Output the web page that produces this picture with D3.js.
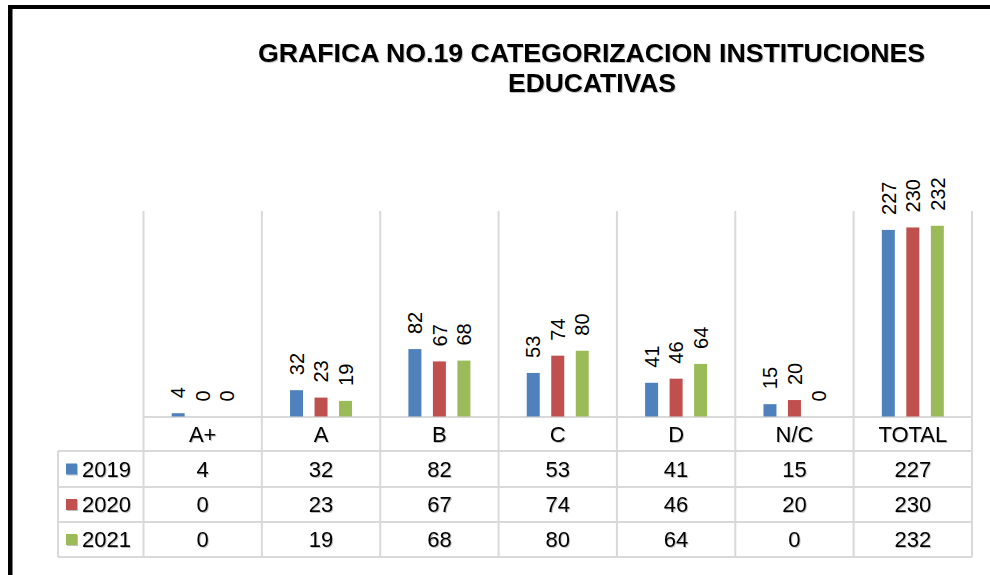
<!DOCTYPE html>
<html>
<head>
<meta charset="utf-8">
<script src="https://cdn.jsdelivr.net/npm/d3@7"></script>
<style>
  body { margin: 0; background: #fff; }
  svg { display: block; font-family: Arial, "Liberation Sans", sans-serif; }
</style>
</head>
<body>
<svg id="chart" width="990" height="575"></svg>
<script>
// chart data
const categories = ['A+', 'A', 'B', 'C', 'D', 'N/C', 'TOTAL'];
const years = ['2019', '2020', '2021'];
const values2019 = [4, 32, 82, 53, 41, 15, 227];
const values2020 = [0, 23, 67, 74, 46, 20, 230];
const values2021 = [0, 19, 68, 80, 64, 0, 232];
const colors = ['#4f81bd', '#c0504d', '#9bbb59'];

const series = [values2019, values2020, values2021].map((vals, i) => ({
    year: years[i], color: colors[i], values: vals
}));

const svg = d3.select('#chart');

// frame (black border top + left)
svg.append('rect').attr('x', 8).attr('y', 5).attr('width', 982).attr('height', 4).attr('fill', '#000');
svg.append('rect').attr('x', 8).attr('y', 5).attr('width', 4.5).attr('height', 570).attr('fill', '#000');

// soft shadow like the original text
const defs = svg.append('defs');
const f = defs.append('filter').attr('id', 'shadow').attr('x', '-10%').attr('y', '-20%').attr('width', '130%').attr('height', '150%');
f.append('feDropShadow').attr('dx', 1).attr('dy', 1).attr('stdDeviation', 0.6)
    .attr('flood-color', '#000').attr('flood-opacity', 0.25);

// title
const title = svg.append('g').attr('font-weight', 'bold').attr('fill', '#000')
    .attr('text-anchor', 'middle').attr('filter', 'url(#shadow)');
title.append('text').attr('x', 591.5).attr('y', 62).attr('font-size', 26.5)
    .attr('textLength', 667).attr('lengthAdjust', 'spacingAndGlyphs')
    .text('GRAFICA NO.19 CATEGORIZACION INSTITUCIONES');
title.append('text').attr('x', 592).attr('y', 92).attr('font-size', 26.5)
    .attr('textLength', 168).attr('lengthAdjust', 'spacingAndGlyphs')
    .text('EDUCATIVAS');

// scales
const x0 = d3.scaleBand().domain(categories).range([143.5, 972]).padding(0);
const groupW = 62;
const x1 = d3.scaleBand().domain(years).range([0, groupW]).paddingInner(0.47).paddingOuter(0);
const y = d3.scaleLinear().domain([0, 250]).range([416.5, 211]);

const tableLeft = 58;
const rowTops = [417, 451, 487, 522, 557];
const gridColor = '#d9d9d9';

// vertical gridlines (category separators) through plot and table
const edges = categories.map(c => x0(c)).concat([x0.range()[1]]);
svg.append('g').selectAll('line').data(edges).join('line')
    .attr('x1', d => d).attr('x2', d => d)
    .attr('y1', 211).attr('y2', rowTops[4])
    .attr('stroke', gridColor).attr('stroke-width', 2);

// table horizontal lines
svg.append('line').attr('x1', x0.range()[0]).attr('x2', x0.range()[1])
    .attr('y1', rowTops[0]).attr('y2', rowTops[0])
    .attr('stroke', gridColor).attr('stroke-width', 2);
svg.append('g').selectAll('line').data(rowTops.slice(1)).join('line')
    .attr('x1', tableLeft).attr('x2', x0.range()[1])
    .attr('y1', d => d).attr('y2', d => d)
    .attr('stroke', gridColor).attr('stroke-width', 2);
svg.append('line').attr('x1', tableLeft).attr('x2', tableLeft)
    .attr('y1', rowTops[1]).attr('y2', rowTops[4])
    .attr('stroke', gridColor).attr('stroke-width', 2);

// bars
const groups = svg.append('g').selectAll('g').data(categories).join('g')
    .attr('transform', c => `translate(${x0(c) + (x0.bandwidth() - groupW) / 2},0)`);

groups.selectAll('rect')
    .data((c, ci) => series.map(s => ({ year: s.year, color: s.color, v: s.values[ci] })))
    .join('rect')
    .attr('x', d => x1(d.year))
    .attr('width', x1.bandwidth())
    .attr('y', d => y(d.v))
    .attr('height', d => y(0) - y(d.v))
    .attr('fill', d => d.color);

// rotated data labels
groups.selectAll('text')
    .data((c, ci) => series.map(s => ({ year: s.year, v: s.values[ci] })))
    .join('text')
    .attr('transform', d => `translate(${x1(d.year) + x1.bandwidth() / 2},${y(d.v) - 15}) rotate(-90)`)
    .attr('dy', '0.36em')
    .attr('font-size', 20)
    .attr('fill', '#000')
    .text(d => d.v);

// category header row
svg.append('g').selectAll('text').data(categories).join('text')
    .attr('x', c => x0(c) + x0.bandwidth() / 2)
    .attr('y', (rowTops[0] + rowTops[1]) / 2)
    .attr('dy', '0.36em')
    .attr('text-anchor', 'middle')
    .attr('font-size', 22)
    .attr('filter', 'url(#shadow)')
    .text(c => c);

// data table rows
series.forEach((s, i) => {
    const cy = (rowTops[i + 1] + rowTops[i + 2]) / 2;
    const row = svg.append('g').attr('filter', 'url(#shadow)');
    row.append('rect').attr('x', 66).attr('y', cy - 5.5).attr('width', 11).attr('height', 11).attr('fill', s.color);
    row.append('text').attr('x', 82).attr('y', cy).attr('dy', '0.36em')
        .attr('font-size', 22).text(s.year);
    row.selectAll('text.v').data(s.values).join('text')
        .attr('class', 'v')
        .attr('x', (v, ci) => x0(categories[ci]) + x0.bandwidth() / 2)
        .attr('y', cy).attr('dy', '0.36em')
        .attr('text-anchor', 'middle')
        .attr('font-size', 22)
        .text(v => v);
});
</script>
</body>
</html>
